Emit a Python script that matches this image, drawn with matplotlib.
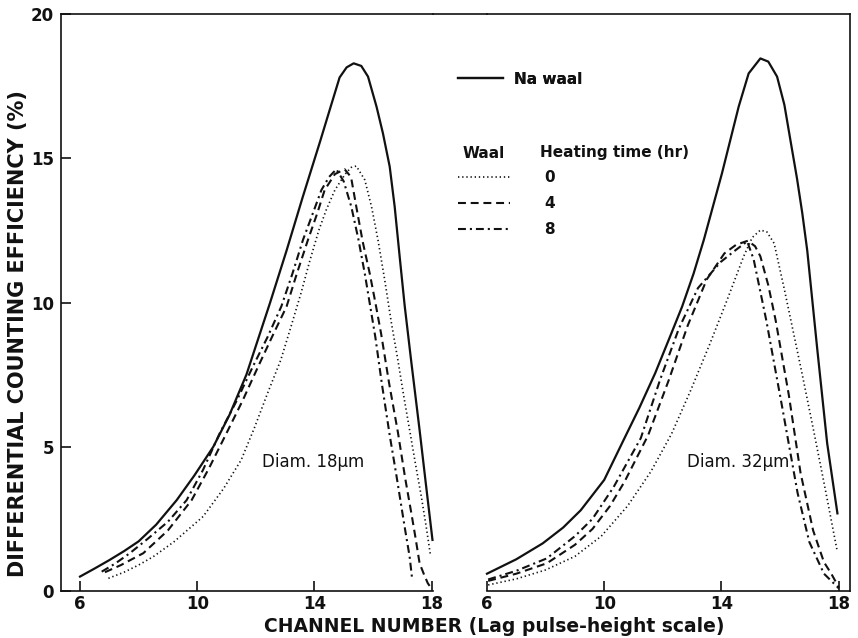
import matplotlib
matplotlib.use("Agg")
import matplotlib.pyplot as plt
from matplotlib.lines import Line2D

# ---------------- data ----------------
# Left panel: Diam. 18 um
l_na_x = [6.0, 6.5, 7.0, 7.5, 8.0, 8.6, 9.3, 9.9, 10.55, 11.1, 11.68, 12.48, 13.05, 13.6, 14.2,
          14.52, 14.86, 15.1, 15.34, 15.6, 15.83, 16.12, 16.34, 16.57, 16.74, 16.91, 17.08, 17.3,
          17.59, 17.8, 18.03]
l_na_y = [0.5, 0.78, 1.07, 1.38, 1.72, 2.3, 3.15, 4.0, 5.0, 6.1, 7.5, 9.97, 11.8, 13.65, 15.6,
          16.67, 17.8, 18.15, 18.29, 18.2, 17.83, 16.79, 15.86, 14.71, 13.32, 11.59, 9.9, 8.0,
          5.58, 3.75, 1.77]

l_h0_x = [6.97, 7.5, 8.0, 8.5, 9.2, 10.2, 10.9, 11.5, 11.95, 12.4, 12.85, 13.2, 13.55, 13.85,
          14.15, 14.4, 14.7, 15.05, 15.25, 15.43, 15.72, 15.95, 16.17, 16.4, 16.63, 16.85, 17.05,
          17.25, 17.45, 17.65, 17.82, 17.96]
l_h0_y = [0.44, 0.65, 0.9, 1.19, 1.7, 2.58, 3.55, 4.54, 5.65, 6.85, 8.0, 9.16, 10.35, 11.47,
          12.5, 13.2, 13.9, 14.45, 14.68, 14.73, 14.25, 13.32, 12.17, 10.78, 9.28, 8.0, 6.75,
          5.58, 4.4, 3.27, 2.2, 1.25]

l_h4_x = [6.85, 7.4, 8.16, 9.0, 9.81, 10.4, 11.0, 11.55, 12.08, 12.55, 13.05, 13.4, 13.78, 14.1,
          14.35, 14.7, 15.03, 15.25, 15.43, 15.65, 15.89, 16.08, 16.28, 16.55, 16.85, 17.1, 17.31,
          17.45, 17.59, 17.75, 17.87, 17.99]
l_h4_y = [0.65, 0.9, 1.31, 2.1, 3.15, 4.25, 5.47, 6.6, 7.78, 8.8, 9.86, 11.0, 12.17, 13.1,
          13.9, 14.45, 14.62, 14.35, 13.32, 12.1, 11.0, 10.0, 8.9, 7.2, 5.5, 3.9, 2.69,
          1.85, 0.96, 0.55, 0.27, 0.09]

l_h8_x = [6.74, 7.2, 7.7, 8.3, 9.0, 9.64, 10.2, 10.77, 11.35, 11.9, 12.4, 12.87, 13.25, 13.61,
          13.95, 14.24, 14.5, 14.75, 15.0, 15.26, 15.5, 15.72, 15.9, 16.08, 16.3, 16.57, 16.8,
          16.97, 17.1, 17.25, 17.34]
l_h8_y = [0.67, 0.95, 1.31, 1.8, 2.4, 3.15, 4.2, 5.47, 6.6, 7.78, 8.8, 9.86, 11.0, 12.17,
          13.1, 13.9, 14.35, 14.62, 14.2, 13.32, 12.2, 11.0, 9.9, 8.8, 7.2, 5.4, 4.0,
          2.92, 2.1, 1.19, 0.38]

# Right panel: Diam. 32 um
r_na_x = [6.0, 7.0, 7.9, 8.6, 9.2, 10.0, 10.66, 11.2, 11.74, 12.2, 12.66, 13.05, 13.4, 14.02,
          14.59, 14.93, 15.33, 15.6, 15.9, 16.15, 16.36, 16.58, 16.76, 16.93, 17.1, 17.27, 17.61,
          17.96]
r_na_y = [0.6, 1.1, 1.65, 2.2, 2.8, 3.85, 5.23, 6.35, 7.55, 8.7, 9.86, 11.0, 12.17, 14.48,
          16.79, 17.94, 18.46, 18.35, 17.83, 16.85, 15.6, 14.3, 13.1, 11.8, 10.1, 8.4, 5.12,
          2.69]

r_h0_x = [6.04, 7.0, 8.0, 9.0, 9.9, 10.8, 11.6, 12.3, 12.95, 13.6, 14.2, 14.76, 15.05, 15.33,
          15.55, 15.8, 16.15, 16.45, 16.75, 17.16, 17.55, 17.94]
r_h0_y = [0.21, 0.42, 0.73, 1.2, 1.9, 2.95, 4.15, 5.45, 6.95, 8.55, 10.1, 11.6, 12.25, 12.51,
          12.45, 12.05, 10.45, 9.0, 7.55, 5.5, 3.5, 1.45]

r_h4_x = [6.04, 7.0, 8.04, 9.0, 9.6, 10.2, 10.7, 11.5, 12.2, 12.85, 13.5, 14.1, 14.5, 14.9,
          15.15, 15.33, 15.6, 15.85, 16.3, 16.7, 17.13, 17.5, 17.75, 18.01]
r_h4_y = [0.35, 0.6, 0.96, 1.6, 2.15, 2.95, 3.8, 5.4, 7.3, 9.2, 10.8, 11.7, 12.0, 12.14,
          11.95, 11.6, 10.6, 9.39, 6.8, 4.1, 2.1, 1.0, 0.6, 0.12]

r_h8_x = [6.04, 7.0, 8.04, 9.0, 9.6, 10.32, 11.25, 11.9, 12.55, 13.2, 13.97, 14.4, 14.88,
          15.1, 15.53, 16.07, 16.6, 17.0, 17.5, 18.01]
r_h8_y = [0.4, 0.7, 1.13, 1.9, 2.5, 3.6, 5.3, 7.3, 9.1, 10.5, 11.4, 11.75, 12.12,
          11.5, 9.39, 6.4, 3.4, 1.7, 0.6, 0.09]

x_ticks = [6, 10, 14, 18]
y_ticks = [0, 5, 10, 15, 20]
panel_labels = ["Diam. 18\u00b5m", "Diam. 32\u00b5m"]
legend_labels = ["Na waal", "0", "4", "8"]

# ---------------- layout ----------------
W, H = 858, 638
fig = plt.figure(figsize=(W / 100, H / 100), dpi=100)
fig.patch.set_facecolor("white")


def fx(px):
    return px / W


def fy(py):
    return 1 - py / H


INK = "#111111"
LEFT, RIGHT1, LEFT2, RIGHT, TOP, BOT = 61, 433, 487, 850, 14, 591
ax1 = fig.add_axes([fx(LEFT), fy(BOT), fx(RIGHT1) - fx(LEFT), fy(TOP) - fy(BOT)])
ax2 = fig.add_axes([fx(LEFT2), fy(BOT), fx(RIGHT) - fx(LEFT2), fy(TOP) - fy(BOT)])

ppu = 29.3  # pixels per channel unit
ax1.set_xlim(6 - (80 - LEFT) / ppu, 6 + (RIGHT1 - 80) / ppu)
ax2.set_xlim(6.0, 6 + (RIGHT - LEFT2) / ppu)
for ax in (ax1, ax2):
    ax.set_ylim(0, 20)

styles = {
    "na": dict(color=INK, lw=1.6, linestyle="-"),
    "h0": dict(color=INK, lw=1.2, linestyle=(0, (0.8, 1.7))),
    "h4": dict(color=INK, lw=1.5, linestyle=(0, (3.8, 2.3))),
    "h8": dict(color=INK, lw=1.5, linestyle=(0, (3.8, 1.9, 1.0, 1.9))),
}

ax1.plot(l_na_x, l_na_y, clip_on=False, **styles["na"])
ax1.plot(l_h0_x, l_h0_y, clip_on=False, **styles["h0"])
ax1.plot(l_h4_x, l_h4_y, clip_on=False, **styles["h4"])
ax1.plot(l_h8_x, l_h8_y, clip_on=False, **styles["h8"])

ax2.plot(r_na_x, r_na_y, clip_on=False, **styles["na"])
ax2.plot(r_h0_x, r_h0_y, clip_on=False, **styles["h0"])
ax2.plot(r_h4_x, r_h4_y, clip_on=False, **styles["h4"])
ax2.plot(r_h8_x, r_h8_y, clip_on=False, **styles["h8"])

# spines / ticks
for ax in (ax1, ax2):
    for s in ax.spines.values():
        s.set_color(INK)
        s.set_linewidth(1.2)
    ax.set_xticks(x_ticks)
    ax.set_xticklabels([str(t) for t in x_ticks], fontsize=12, fontweight="bold", color=INK)
    ax.tick_params(axis="x", direction="in", length=7, width=1.2, pad=3, colors=INK)
    ax.set_facecolor("none")

ax1.spines["right"].set_visible(False)
ax1.set_yticks(y_ticks)
ax1.set_yticklabels([str(t) for t in y_ticks], fontsize=12, fontweight="bold", color=INK)
ax1.tick_params(axis="y", direction="in", length=7, width=1.2, pad=5, colors=INK)

ax2.spines["left"].set_visible(False)
ax2.set_yticks([])

# top border spanning the gap between panels
fig.add_artist(Line2D([fx(RIGHT1), fx(LEFT2)], [fy(TOP), fy(TOP)], color=INK, lw=1.2))

# panel annotations
ax1.text(13.95, 4.47, panel_labels[0], ha="center", va="center", fontsize=12, color=INK)
ax2.text(14.58, 4.47, panel_labels[1], ha="center", va="center", fontsize=12, color=INK)

# axis labels
fig.text(fx(494), fy(627), "CHANNEL NUMBER (Lag pulse-height scale)", ha="center", va="center",
         fontsize=13.5, fontweight="bold", color=INK)
fig.text(fx(18), fy(334), "DIFFERENTIAL COUNTING EFFICIENCY (%)", ha="center", va="center",
         rotation=90, fontsize=15, fontweight="bold", color=INK)

# legends
FS = 11
fpx = FS * 100 / 72
leg1 = fig.legend(handles=[Line2D([], [], **styles["na"])], labels=[legend_labels[0]],
                  loc="center left", bbox_to_anchor=(fx(458), fy(79)), frameon=False,
                  borderpad=0, borderaxespad=0, handlelength=45 / fpx, handletextpad=11 / fpx,
                  prop=dict(size=FS, weight="bold"), labelcolor=INK)
fig.add_artist(leg1)

fig.text(fx(463), fy(153), "Waal", ha="left", va="center", fontsize=FS, fontweight="bold", color=INK)
fig.text(fx(540), fy(153), "Heating time (hr)", ha="left", va="center", fontsize=FS,
         fontweight="bold", color=INK)

leg2 = fig.legend(handles=[Line2D([], [], **styles["h0"]), Line2D([], [], **styles["h4"]),
                           Line2D([], [], **styles["h8"])],
                  labels=legend_labels[1:], loc="upper left",
                  bbox_to_anchor=(fx(458), fy(170)), frameon=False, borderpad=0,
                  borderaxespad=0, handlelength=52 / fpx, handletextpad=34 / fpx,
                  labelspacing=0.72, prop=dict(size=FS, weight="bold"), labelcolor=INK)

fig.savefig("out.png", dpi=100, facecolor="white")
